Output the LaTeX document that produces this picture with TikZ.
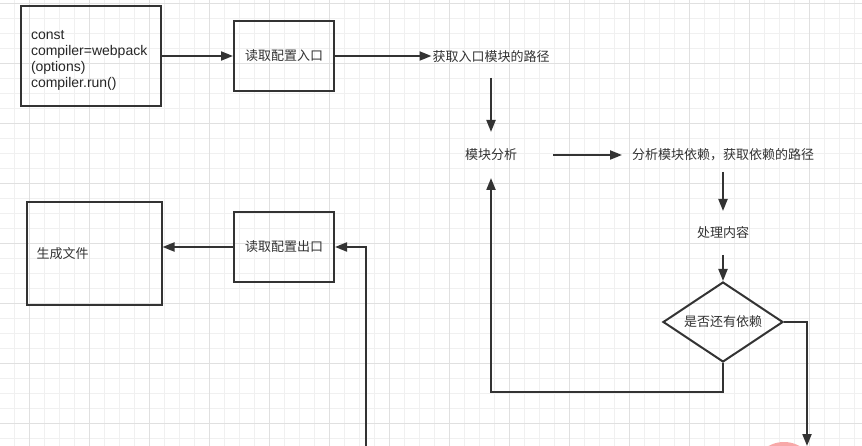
\documentclass[tikz,border=0pt]{standalone}
\usepackage{fontspec}
\setmainfont{Liberation Sans}
\newfontfamily\cjk{Noto Sans CJK SC}
\usetikzlibrary{arrows.meta,shapes.geometric}
\definecolor{ink}{HTML}{333333}
\definecolor{gridminor}{HTML}{F0F0F0}
\definecolor{gridmajor}{HTML}{E0E0E0}
\definecolor{blob}{HTML}{F8A8A8}

\begin{document}
\begin{tikzpicture}[
    x=1pt, y=-1pt,
    line width=2pt,
    every node/.style={font=\cjk\fontsize{13}{16}\selectfont, text=ink},
    box/.style={draw=ink, rectangle, inner sep=0pt},
    plain/.style={inner sep=0pt},
    decision/.style={draw=ink, diamond, aspect=1.5, inner sep=0pt,
                     minimum width=120pt, minimum height=80pt},
    flow/.style={draw=ink, -{Triangle[length=12pt,width=9pt]}},
    minorline/.style={draw=gridminor, line width=0.8pt},
    majorline/.style={draw=gridmajor, line width=0.8pt}
  ]

  %--------------------------------------
  % 0) Canvas and background grid
  %--------------------------------------
  \clip (0,0) rectangle (862,446);
  \fill[white] (0,0) rectangle (862,446);
  \foreach \x in {14.3,29.3,...,862} \draw[minorline] (\x,0) -- (\x,446);
  \foreach \y in {3.3,18.3,...,446} \draw[minorline] (0,\y) -- (862,\y);
  \foreach \x in {29.3,89.3,...,862} \draw[majorline] (\x,0) -- (\x,446);
  \foreach \y in {3.3,63.3,...,446} \draw[majorline] (0,\y) -- (862,\y);

  % pink mark at the bottom edge
  \fill[blob] (784,474) circle[radius=32];

  %--------------------------------------
  % 1) Entry: compiler start and config entry
  %--------------------------------------
  \node[box, minimum width=140pt, minimum height=100pt, text width=120pt,
        align=left, font=\fontsize{14}{16}\selectfont, text=black!85]
    (start) at (91,56) {\rule{0pt}{17pt}const\\compiler=webpack\\(options)\\compiler.run()};
  \node[box, minimum width=100pt, minimum height=70pt] (in) at (284,56) {读取配置入口};
  \node[plain, minimum height=40pt] (entrypath) at (491,57) {获取入口模块的路径};

  %--------------------------------------
  % 2) Module analysis loop
  %--------------------------------------
  \node[plain, minimum width=122pt, minimum height=44pt] (analyse) at (491,155) {模块分析};
  \node[plain, minimum width=200pt, minimum height=32pt] (dep) at (723,155) {分析模块依赖，获取依赖的路径};
  \node[plain, minimum height=42pt] (process) at (723,233) {处理内容};
  \node[decision] (check) at (723,322) {是否还有依赖};

  %--------------------------------------
  % 3) Output: config output and files
  %--------------------------------------
  \node[box, minimum width=135pt, minimum height=103pt, text width=115pt,
        align=left] (gen) at (94,254) {生成文件};
  \node[box, minimum width=100pt, minimum height=70pt] (out) at (284,247) {读取配置出口};

  % loose ends at the bottom edge
  \coordinate (outend) at (807,446);
  \coordinate (outstart) at (366,446);

  %--------------------------------------
  % 4) Connectors
  %--------------------------------------
  \draw[flow] (start.east) -- (in.west);
  \draw[flow] (in.east) -- (in.east -| entrypath.west);
  \draw[flow] (entrypath) -- (analyse);
  \draw[flow] (analyse) -- (dep);
  \draw[flow] (dep) -- (process);
  \draw[flow] (process) -- (check);
  % no more dependencies -> back to analysis
  \draw[flow] (check.south) -- ++(0,29) -| (analyse.south);
  \draw[flow] (check.east) -| (outend);
  \draw[flow] (outstart) |- (out.east);
  \draw[flow] (out.west) -- (out.west -| gen.east);

\end{tikzpicture}
\end{document}
